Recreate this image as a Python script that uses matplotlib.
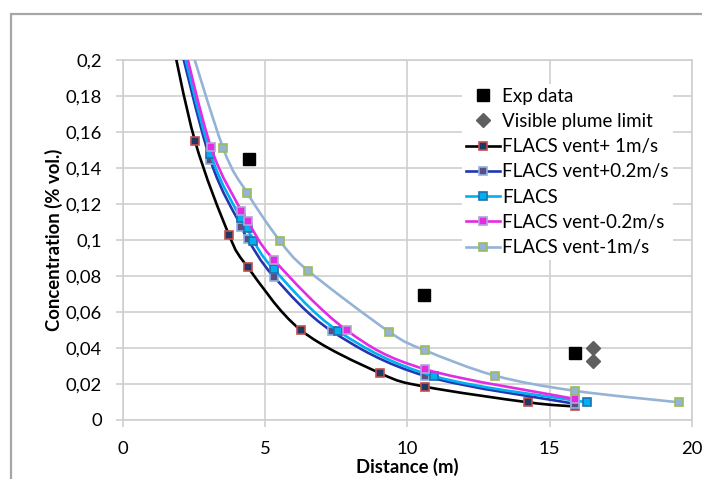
import matplotlib
matplotlib.use('Agg')
import matplotlib.pyplot as plt
import numpy as np
from matplotlib.path import Path
from matplotlib.patches import PathPatch, Rectangle
from matplotlib.lines import Line2D

plt.rcParams['font.family'] = ['Lato', 'DejaVu Sans']

# Experimental points
exp_x = [4.44, 10.58, 15.89]
exp_y = [0.145, 0.0695, 0.037]
plume_x = [16.51, 16.51]
plume_y = [0.040, 0.033]

# FLACS simulations (first point lies above the visible range)
vp1_x = [1.62, 2.54, 3.73, 4.39, 6.25, 9.04, 10.62, 14.25, 15.89]
vp1_y = [0.22, 0.155, 0.103, 0.085, 0.050, 0.026, 0.0185, 0.0098, 0.0075]

vp02_x = [1.83, 3.08, 4.17, 4.39, 5.31, 7.34, 10.62, 15.89]
vp02_y = [0.22, 0.1444, 0.1074, 0.1004, 0.0796, 0.0494, 0.0245, 0.0090]

flacs_x = [1.90, 3.08, 4.14, 4.39, 4.59, 5.31, 7.57, 10.95, 16.32]
flacs_y = [0.22, 0.148, 0.1122, 0.1065, 0.0996, 0.0837, 0.0494, 0.0243, 0.0098]

vm02_x = [1.98, 3.10, 4.17, 4.39, 5.31, 7.87, 10.62, 15.89]
vm02_y = [0.22, 0.1515, 0.1161, 0.1104, 0.0889, 0.0498, 0.0282, 0.0117]

vm1_x = [2.14, 3.53, 4.38, 5.52, 6.51, 9.36, 10.62, 13.09, 15.89, 19.55]
vm1_y = [0.22, 0.151, 0.126, 0.0996, 0.083, 0.049, 0.0387, 0.0246, 0.0162, 0.0098]

yticks = [0, 0.02, 0.04, 0.06, 0.08, 0.1, 0.12, 0.14, 0.16, 0.18, 0.2]
ytick_labels = ['0', '0,02', '0,04', '0,06', '0,08', '0,1', '0,12', '0,14', '0,16', '0,18', '0,2']
xticks = [0, 5, 10, 15, 20]


def smooth_path(xs, ys):
    """Excel-like smoothed line as cubic Bezier segments."""
    p = np.column_stack([xs, ys])
    n = len(p)
    verts = [p[0]]
    codes = [Path.MOVETO]
    for i in range(n - 1):
        p0 = p[max(i - 1, 0)]
        p1 = p[i]
        p2 = p[i + 1]
        p3 = p[min(i + 2, n - 1)]
        verts += [p1 + (p2 - p0) / 6, p2 - (p3 - p1) / 6, p2]
        codes += [Path.CURVE4] * 3
    return Path(verts, codes)


series = [
    ('FLACS vent+ 1m/s', vp1_x, vp1_y, 'black', '#1F3864', '#C0504D'),
    ('FLACS vent+0.2m/s', vp02_x, vp02_y, '#2236B0', '#5A4F80', '#8EB4E3'),
    ('FLACS', flacs_x, flacs_y, '#00B0F0', '#00B0F0', '#1F6FB0'),
    ('FLACS vent-0.2m/s', vm02_x, vm02_y, '#E42BE4', '#E42BE4', '#B3A2D7'),
    ('FLACS vent-1m/s', vm1_x, vm1_y, '#95B3D7', '#95B3D7', '#9BBB59'),
]

fig = plt.figure(figsize=(7.02, 4.79), dpi=100)
ax = fig.add_axes([0.1748, 0.1232, 0.9858 - 0.1748, 0.8747 - 0.1232])

grid_c = '#CFCFCF'

ax.plot(exp_x, exp_y, ls='none', marker='s', ms=8.5, color='black', zorder=3)
ax.plot(plume_x, plume_y, ls='none', marker='D', ms=7, color='#5F5F5F', zorder=3)

handles = [
    Line2D([], [], ls='none', marker='s', ms=8.5, color='black', label='Exp data'),
    Line2D([], [], ls='none', marker='D', ms=7, color='#5F5F5F', label='Visible plume limit'),
]

for i, (name, xs, ys, lc, mfc, mec) in enumerate(series):
    ax.add_patch(PathPatch(smooth_path(xs, ys), facecolor='none', edgecolor=lc,
                           lw=1.9, zorder=4 + i * 0.1))
    ax.plot(xs, ys, ls='none', marker='s', ms=6, mfc=mfc, mec=mec, mew=1.2,
            zorder=4.05 + i * 0.1)
    handles.append(Line2D([], [], color=lc, lw=1.9, marker='s', ms=6, mfc=mfc,
                          mec=mec, mew=1.2, label=name))

ax.set_xlim(0, 20)
ax.set_ylim(0, 0.2)
ax.set_xticks(xticks)
ax.set_xticklabels([str(t) for t in xticks])
ax.set_yticks(yticks)
ax.set_yticklabels(ytick_labels)
ax.grid(True, color=grid_c, lw=1.2)
ax.set_axisbelow(True)
for s in ax.spines.values():
    s.set_color(grid_c)
    s.set_linewidth(1.2)
ax.tick_params(direction='out', length=5, width=1.2, color=grid_c,
               labelsize=13.3, pad=10, labelcolor='black')

ax.set_xlabel('Distance (m)', fontsize=13.3, fontweight='bold', labelpad=1)
ax.set_ylabel('Concentration (% vol.)', fontsize=13.3, fontweight='bold', labelpad=2)

leg = ax.legend(handles=handles, loc='upper left', bbox_to_anchor=(462 / 702, 1 - 84 / 479),
                bbox_transform=fig.transFigure, frameon=True, fontsize=13.5,
                handlelength=1.8, handletextpad=0.15, labelspacing=0.44,
                borderpad=0.2, borderaxespad=0)
leg.get_frame().set_facecolor('white')
leg.get_frame().set_edgecolor('none')
leg.get_frame().set_alpha(1)
leg.set_zorder(10)

# outer chart frame (cut by the image edge on the right and bottom)
fig.patches.append(Rectangle((11 / 702, -0.1), 1.1, 1 - 14 / 479 + 0.1,
                             transform=fig.transFigure, fill=False,
                             edgecolor='#A6A6A6', lw=1.6))

fig.savefig('out.png', dpi=100)
